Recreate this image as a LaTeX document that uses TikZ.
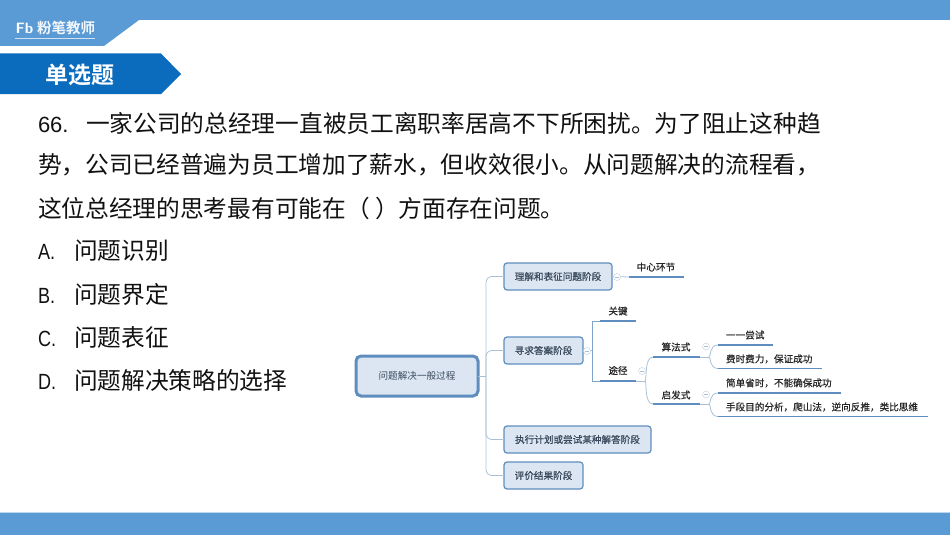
\documentclass[tikz,border=0pt]{standalone}
\usepackage{fontspec}
\setmainfont{Liberation Sans}
\newfontfamily\cjk{Noto Sans CJK SC}
\newfontfamily\cjkm{Noto Sans CJK SC}[FakeBold=0.6]
\newfontfamily\cjkb{Noto Sans CJK SC}[BoldFont={Noto Sans CJK SC Bold}]
\newfontfamily\latnum{Liberation Sans}[FakeStretch=0.82]
\newfontfamily\latwide{Liberation Sans}
\definecolor{band}{HTML}{5B9BD5}
\definecolor{tag}{HTML}{0B6BBD}
\definecolor{boxfill}{HTML}{DCE6F2}
\definecolor{boxline}{HTML}{5F8DBF}
\definecolor{conn}{HTML}{A9C0D8}
\definecolor{boxtext}{HTML}{3A4A5C}
\definecolor{maintext}{HTML}{111111}
\tikzset{
  x=1pt,y=-1pt,
  every node/.style={inner sep=0pt,outer sep=0pt},
  main/.style={anchor=west,font=\fontsize{23.7}{24}\cjk,text=maintext},
  branch/.style={draw=boxline,line width=1.2pt,fill=boxfill,rounded corners=3pt,font=\fontsize{9.6}{10}\cjkm,text=boxtext},
  rootbox/.style={draw=boxline,line width=3pt,fill=boxfill,rounded corners=5pt,font=\fontsize{9.6}{10}\cjk,text=boxtext},
  leaflabel/.style={font=\fontsize{9.6}{10}\cjkm,text=black!85},
  leafline/.style={draw=boxline,line width=1.5pt},
  link/.style={draw=conn,line width=0.8pt},
  collapse/.style={circle,draw=conn!80,line width=0.4pt,fill=white,minimum size=7pt},
}
\newcommand{\numlabel}[2]{\makebox[#1pt][l]{\latnum\fontsize{22}{22}\selectfont #2}}
\newcommand{\widelabel}[2]{\makebox[#1pt][l]{\latwide\fontsize{22}{22}\selectfont #2}}
\begin{document}
\begin{tikzpicture}
\useasboundingbox (0,0) rectangle (950,535);
% frame
\fill[band] (0,0) -- (950,0) -- (950,20) -- (139,20) -- (104,46) -- (0,46) -- cycle;
\fill[band] (0,513) rectangle (950,535);
\draw[band!40,line width=0.6pt] (0,512.5) -- (950,512.5);
\fill[tag] (0,53.5) -- (161,53.5) -- (181,74) -- (161,94) -- (0,94) -- cycle;
\node[anchor=west,text=white!92!band,font=\fontsize{14.5}{15}\bfseries\cjkb] (brand) at (37,27.5) {粉笔教师};
\node[anchor=center,text=white,font=\fontsize{15}{15}\bfseries\sffamily] (logo) at (24.5,28) {Fb};
\draw[white!70!band,line width=0.7pt] (15,38.5) -- (95,38.5);
\node[anchor=center,text=white,font=\fontsize{23}{23}\bfseries\cjkb] (tagtext) at (80,74.5) {单选题};
% question
\node[main] (q1) at (38,123) {\widelabel{48}{66.}一家公司的总经理一直被员工离职率居高不下所困扰。为了阻止这种趋};
\node[main] (q2) at (38,165) {势，公司已经普遍为员工增加了薪水，但收效很小。从问题解决的流程看，};
\node[main] (q3) at (38,208) {这位总经理的思考最有可能在（ ）方面存在问题。};
\node[main] (a) at (38,251) {\numlabel{36}{A.}问题识别};
\node[main] (b) at (38,294) {\numlabel{36}{B.}问题界定};
\node[main] (c) at (38,337) {\numlabel{36}{C.}问题表征};
\node[main] (d) at (38,380) {\numlabel{36}{D.}问题解决策略的选择};
% boxes
\node[rootbox,minimum width=122pt,minimum height=40pt] (root) at (417,376) {问题解决一般过程};
\node[branch,minimum width=108pt,minimum height=27pt] (b1) at (558,276.5) {理解和表征问题阶段};
\node[branch,minimum width=79pt,minimum height=27pt] (b2) at (543.5,350.5) {寻求答案阶段};
\node[branch,minimum width=147pt,minimum height=27pt] (b3) at (577.5,439.5) {执行计划或尝试某种解答阶段};
\node[branch,minimum width=79pt,minimum height=27pt] (b4) at (543.5,475.5) {评价结果阶段};
% trunk links
\coordinate (tr) at (486,376);
\draw[link] (root.east) -- (tr);
\draw[link,rounded corners=6pt] (tr) |- (b1.west);
\draw[link,rounded corners=6pt] (tr) |- (b2.west);
\draw[link,rounded corners=6pt] (tr) |- (b3.west);
\draw[link,rounded corners=6pt] (tr) |- (b4.west);
% leaf anchors
\coordinate (l1a) at (629,277); \coordinate (l1b) at (684,277);
\coordinate (k1a) at (600,321); \coordinate (k1b) at (636,321);
\coordinate (t1a) at (600,381); \coordinate (t1b) at (636,381);
\coordinate (s1a) at (653,357); \coordinate (s1b) at (700,357);
\coordinate (h1a) at (653,404); \coordinate (h1b) at (700,404);
\coordinate (m1a) at (718,345); \coordinate (m1b) at (773,345);
\coordinate (m2a) at (718,368.5); \coordinate (m2b) at (822,368.5);
\coordinate (m3a) at (718,393); \coordinate (m3b) at (841,393);
\coordinate (m4a) at (718,416.5); \coordinate (m4b) at (928,416.5);
\foreach \p/\q in {l1a/l1b,k1a/k1b,t1a/t1b,s1a/s1b,h1a/h1b,m1a/m1b,m2a/m2b,m3a/m3b,m4a/m4b}
  \draw[leafline] (\p) -- (\q);
% links
\draw[link] (b1.east) -- (l1a);
\coordinate (br2) at (592.5,350.5);
\draw[link] (b2.east) -- (br2);
\draw[boxline!80,line width=0.7pt] (k1a) -- (592.5,321) -- (592.5,381) -- (t1a);
\coordinate (br3) at (645,381);
\draw[link] (t1b) -- (br3);
\draw[link] (br3) .. controls (647,381) and (644,357) .. (s1a);
\draw[link] (br3) .. controls (647,381) and (644,404) .. (h1a);
\coordinate (br4) at (709,357);
\draw[link] (s1b) -- (br4);
\draw[link] (br4) .. controls (711,357) and (709,345) .. (m1a);
\draw[link] (br4) .. controls (711,357) and (709,368.5) .. (m2a);
\coordinate (br5) at (709,404);
\draw[link] (h1b) -- (br5);
\draw[link] (br5) .. controls (711,404) and (709,393) .. (m3a);
\draw[link] (br5) .. controls (711,404) and (709,416.5) .. (m4a);
% collapse buttons
\foreach \n/\x/\y in {c1/617/277,c2/587/351,c3/642/371,c4/706/346.5,c5/706/394.5}{
  \node[collapse] (\n) at (\x,\y) {};
  \draw[conn,line width=0.4pt] (\x-2,\y) -- (\x+2,\y);
}
% leaf labels
\node[leaflabel] (t1) at (656,267) {中心环节};
\node[leaflabel] (t2) at (618,311) {关键};
\node[leaflabel] (t3) at (618,370.5) {途径};
\node[leaflabel] (t4) at (676,347) {算法式};
\node[leaflabel] (t5) at (676,395) {启发式};
\node[leaflabel,anchor=west] (t6) at (726,335) {一一尝试};
\node[leaflabel,anchor=west] (t7) at (726,359) {费时费力，保证成功};
\node[leaflabel,anchor=west] (t8) at (726,383) {简单省时，不能确保成功};
\node[leaflabel,anchor=west] (t9) at (726,407) {手段目的分析，爬山法，逆向反推，类比思维};
\end{tikzpicture}
\end{document}
